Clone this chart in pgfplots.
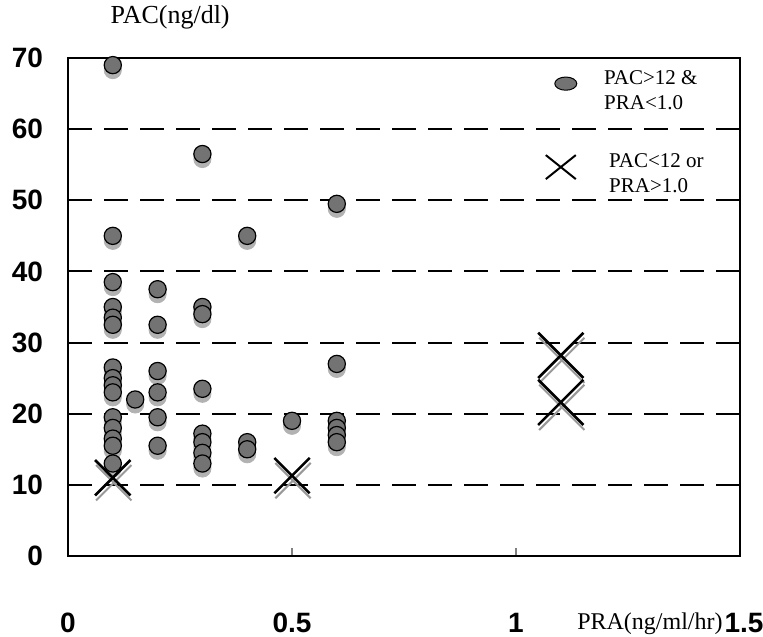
\documentclass[border=0pt]{standalone}
\usepackage{fontspec}
\setmainfont{Liberation Serif}
\setsansfont{Liberation Sans}
\usepackage{pgfplots}
\pgfplotsset{compat=1.18}
\usepackage{pgfplotstable}

% PAC>12 & PRA<1.0
\pgfplotstableread{
x y
0.1 69
0.1 45
0.1 38.5
0.1 35
0.1 33.5
0.1 32.5
0.1 26.5
0.1 25
0.1 24
0.1 23
0.1 19.5
0.1 18
0.1 16.5
0.1 15.5
0.1 13
0.15 22
0.2 37.5
0.2 32.5
0.2 26
0.2 23
0.2 19.5
0.2 15.5
0.3 56.5
0.3 35
0.3 34
0.3 23.5
0.3 17.2
0.3 16
0.3 14.5
0.3 13
0.4 45
0.4 16
0.4 15
0.5 19
0.6 49.5
0.6 27
0.6 19
0.6 18
0.6 17
0.6 16
}\pacok

% PAC<12 or PRA>1.0
\pgfplotstableread{
x y
0.1 11
0.5 11.3
}\smallx
\pgfplotstableread{
x y
1.1 28.2
1.1 21.6
}\bigx

\begin{document}
\begin{tikzpicture}
\useasboundingbox (-34pt,-40pt) rectangle (347.5pt,278pt);
\begin{axis}[
  at={(0,0)}, anchor=south west,
  scale only axis, width=336pt, height=249pt,
  xmin=0, xmax=1.5, ymin=0, ymax=70,
  xtick={0,0.5,1,1.5}, xticklabels={0,0.5,1,\hspace*{4pt}1.5},
  ytick={0,10,...,70},
  ymajorgrids,
  grid style={black, line width=1pt, dash pattern=on 12pt off 6pt},
  axis line style={line width=1pt},
  xtick pos=lower, ytick pos=left,
  tick align=inside, major tick length=4pt,
  ytick style={draw=none},
  xtick style={line width=0.8pt},
  tick label style={font=\sffamily\bfseries\fontsize{14}{14}\selectfont},
  /pgf/number format/assume math mode=true,
  yticklabel style={xshift=-9pt},
  xticklabel style={yshift=-25pt},
  xlabel={PRA(ng/ml/hr)},
  xlabel style={at={(rel axis cs:0.866,-0.136)}, anchor=center, font=\fontsize{12}{12}\selectfont},
  ylabel={PAC(ng/dl)},
  ylabel style={at={(rel axis cs:0.152,1.082)}, rotate=-90, anchor=center, font=\fontsize{13}{13}\selectfont},
  legend style={draw=none, fill=none, at={(rel axis cs:0.700,0.999)}, anchor=north west,
    row sep=21pt, font=\fontsize{10.5}{12.5}\selectfont},
  legend cell align=left,
]
% shadows
\addplot[only marks, mark=*, mark size=4.3pt,
  mark options={fill=black!30, draw=black!30, yshift=-2.5pt}, forget plot] table {\pacok};
\addplot[only marks, mark=x, mark size=12.5pt,
  mark options={draw=black!40, line width=1pt, xshift=0.5pt, yshift=-2.5pt}, forget plot] table {\smallx};
\addplot[only marks, mark=x, mark size=16pt,
  mark options={draw=black!40, line width=1pt, xshift=0.5pt, yshift=-2.5pt}, forget plot] table {\bigx};
% main marks
\addplot[only marks, mark=*, mark size=4.3pt,
  mark options={fill=black!55, draw=black, line width=0.6pt},
  legend image code/.code={\path (0,0) (25.5pt,0);
    \draw[fill=black!55, line width=0.5pt] (8.5pt,0) ellipse (5.5pt and 3.3pt);}]
  table {\pacok};
\addlegendentry{\begin{tabular}{@{}l@{}}PAC>12 \&\\PRA<1.0\end{tabular}}
\addplot[only marks, mark=x, mark size=12.5pt,
  mark options={draw=black, line width=1.3pt},
  legend image code/.code={\path (0,0) (25.5pt,0);
    \draw[line width=1pt] (-1.5pt,-6pt) -- (13.5pt,6pt) (-1.5pt,6pt) -- (13.5pt,-6pt);}]
  table {\smallx};
\addlegendentry{\begin{tabular}{@{}l@{}}\hspace*{2.5pt}PAC<12 or\\\hspace*{2.5pt}PRA>1.0\end{tabular}}
\addplot[only marks, mark=x, mark size=16pt,
  mark options={draw=black, line width=1.3pt}, forget plot] table {\bigx};
\end{axis}
\end{tikzpicture}
\end{document}
